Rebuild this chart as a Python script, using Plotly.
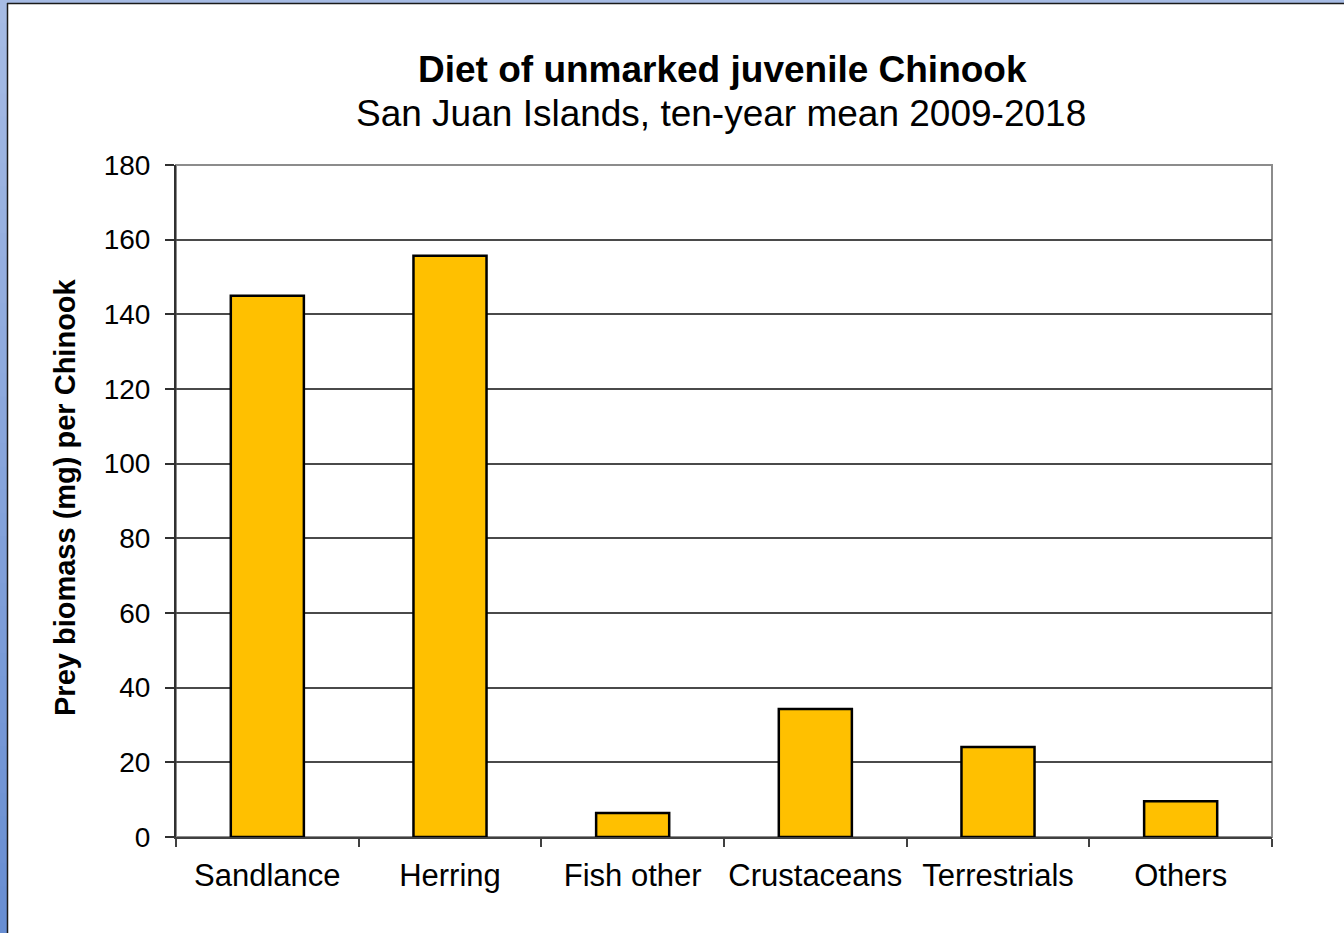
import plotly.graph_objects as go

# Prey categories and ten-year mean biomass (mg per fish)
categories = ["Sandlance", "Herring", "Fish other", "Crustaceans", "Terrestrials", "Others"]
biomass_mg = [145.0, 155.7, 6.4, 34.3, 24.1, 9.6]
y_ticks = [0, 20, 40, 60, 80, 100, 120, 140, 160, 180]

W, H = 1344, 933
L, R, T, B = 176, 72, 165, 96
PW, PH = W - L - R, H - T - B


def px_x(x):
    return (x - L) / PW


def px_y(y):
    return (H - B - y) / PH


fig = go.Figure()
fig.add_trace(go.Bar(
    x=categories,
    y=biomass_mg,
    marker=dict(color="#FFC000", line=dict(color="#000000", width=2.5)),
    width=0.4,
    hoverinfo="x+y",
))

font = "Liberation Sans, Arial, sans-serif"

shapes = []
# plot frame (top and right edges in grey)
shapes.append(dict(type="rect", xref="paper", yref="paper", x0=0, x1=1, y0=0, y1=1,
                   line=dict(color="#8c8c8c", width=2), layer="below"))
# blue gradient strip along the left edge of the page
n = 40
c0, c1 = (166, 187, 228), (104, 142, 210)
for i in range(n):
    f = i / (n - 1)
    col = "rgb(%d,%d,%d)" % tuple(round(a + (b - a) * f) for a, b in zip(c0, c1))
    shapes.append(dict(type="rect", xref="paper", yref="paper",
                       x0=px_x(0), x1=px_x(7),
                       y0=px_y(H * (i + 1) / n + 1), y1=px_y(H * i / n),
                       line=dict(width=0), fillcolor=col, layer="above"))
# thin blue strip along the top
shapes.append(dict(type="rect", xref="paper", yref="paper",
                   x0=px_x(0), x1=px_x(W), y0=px_y(3), y1=px_y(0),
                   line=dict(width=0), fillcolor="rgb(166,187,228)", layer="above"))
# dark edges of the page panel
shapes.append(dict(type="line", xref="paper", yref="paper",
                   x0=px_x(7.5), x1=px_x(7.5), y0=px_y(H), y1=px_y(3),
                   line=dict(color="#1a1a1a", width=1.5), layer="above"))
shapes.append(dict(type="line", xref="paper", yref="paper",
                   x0=px_x(7), x1=px_x(W), y0=px_y(3.5), y1=px_y(3.5),
                   line=dict(color="#1a1a1a", width=1.5), layer="above"))

fig.update_layout(
    width=W, height=H,
    margin=dict(l=L, r=R, t=T, b=B, autoexpand=False),
    paper_bgcolor="white",
    plot_bgcolor="white",
    showlegend=False,
    bargap=0.6,
    shapes=shapes,
    annotations=[
        dict(text="<b>Diet of unmarked juvenile Chinook</b>", xref="paper", yref="paper",
             x=px_x(722), y=px_y(70), xanchor="center", yanchor="middle", showarrow=False,
             font=dict(family=font, size=37, color="black")),
        dict(text="San Juan Islands, ten-year mean 2009-2018", xref="paper", yref="paper",
             x=px_x(721), y=px_y(113), xanchor="center", yanchor="middle", showarrow=False,
             font=dict(family=font, size=37, color="black")),
        dict(text="<b>Prey biomass (mg) per Chinook</b>", xref="paper", yref="paper",
             x=px_x(65), y=px_y(497), xanchor="center", yanchor="middle", showarrow=False,
             textangle=-90, font=dict(family=font, size=29, color="black")),
    ],
)

fig.update_xaxes(
    type="category",
    automargin=False,
    tickangle=0,
    showline=True, linecolor="#404040", linewidth=2,
    ticks="outside", ticklen=8, tickcolor="#404040", tickwidth=1.5,
    tickson="boundaries",
    showgrid=False,
    ticklabelstandoff=10,
    tickfont=dict(family=font, size=31, color="black"),
    range=[-0.5, 5.5],
)
fig.update_yaxes(
    automargin=False,
    range=[0, 180],
    tickvals=y_ticks,
    showline=True, linecolor="#303030", linewidth=2,
    ticks="outside", ticklen=9, tickcolor="#303030", tickwidth=1.5,
    showgrid=True, gridcolor="#4a4a4a", gridwidth=1.5,
    zeroline=False,
    ticklabelstandoff=9,
    tickfont=dict(family=font, size=28, color="black"),
)

fig.write_html("out.html")
